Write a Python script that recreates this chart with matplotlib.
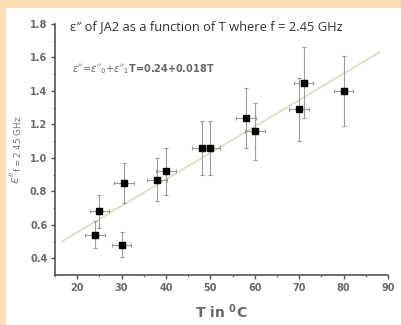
import numpy as np
import matplotlib.pyplot as plt
from matplotlib.patches import Rectangle
from matplotlib.ticker import MultipleLocator

# measured points (T in deg C, eps'' at 2.45 GHz)
temp = [24, 25, 30, 30.5, 38, 40, 48, 50, 58, 60, 70, 71, 80]
eps = [0.54, 0.68, 0.48, 0.85, 0.87, 0.92, 1.06, 1.06, 1.24, 1.16, 1.29, 1.45, 1.40]
eps_err = [0.08, 0.10, 0.075, 0.12, 0.13, 0.14, 0.16, 0.16, 0.18, 0.17, 0.19, 0.21, 0.21]
temp_err = [2.2] * len(temp)

# fitted line, end points
fit_t = [16.5, 88]
fit_eps = [0.50, 1.63]

x_ticks = [20, 30, 40, 50, 60, 70, 80, 90]
y_ticks = [0.4, 0.6, 0.8, 1.0, 1.2, 1.4, 1.6, 1.8]

fig = plt.figure(figsize=(4.01, 3.25), dpi=100)
fig.patch.set_facecolor('#fddbb5')
# white panel
fig.patches.append(Rectangle((6 / 401, 0), 1, 1 - 8 / 325, transform=fig.transFigure,
                             facecolor='white', edgecolor='none', zorder=-5))

ax = fig.add_axes([55 / 401, 1 - 275 / 325, (388 - 55) / 401, (275 - 24) / 325])
ax.set_facecolor('none')

ax.plot(fit_t, fit_eps, color='#dadfc6', lw=1.3, zorder=1)
ax.errorbar(temp, eps, yerr=eps_err, xerr=temp_err, fmt='s', color='black', ms=4,
            ecolor='#9a9a9a', elinewidth=0.8, capsize=1.5, capthick=0.8, zorder=3)

ax.set_xlim(15, 90)
ax.set_ylim(0.3, 1.8)
ax.set_xticks(x_ticks)
ax.set_yticks(y_ticks)
ax.xaxis.set_minor_locator(MultipleLocator(5))
ax.yaxis.set_minor_locator(MultipleLocator(0.1))
ax.set_yticklabels([f'{v:.1f}' for v in y_ticks])
ax.tick_params(which='major', direction='out', length=3, width=1, colors='#555555',
               labelsize=7, pad=2.5)
ax.tick_params(which='minor', direction='out', length=1.5, width=0.8, colors='#777777')
for lab in ax.get_xticklabels() + ax.get_yticklabels():
    lab.set_fontweight('bold')
    lab.set_color('#6a6a6a')

for s in ['top', 'right']:
    ax.spines[s].set_visible(False)
for s in ['left', 'bottom']:
    ax.spines[s].set_color('#555555')
    ax.spines[s].set_linewidth(1.2)

ax.set_xlabel(r'T in $^{\mathregular{0}}$C', fontsize=10, fontweight='bold',
              color='#666666', labelpad=7)
ax.set_ylabel(r"$\varepsilon''_{\mathregular{f=2.45\ GHz}}$", fontsize=9,
              color='#777777', labelpad=4)

fig.text(70 / 401, 1 - 27 / 325, "ε\u2033 of JA2 as a function of T where f = 2.45 GHz",
         fontsize=9.3, family=['Open Sans', 'DejaVu Sans'], color='#333333', va='center')
ax.text(0.05, 0.82, r"$\varepsilon''\!=\!\varepsilon''_0\!+\!\varepsilon''_1$T=0.24+0.018T",
        transform=ax.transAxes, fontsize=7, color='#666666', fontweight='bold', va='center')

fig.savefig('out.png', dpi=100, facecolor=fig.get_facecolor())
